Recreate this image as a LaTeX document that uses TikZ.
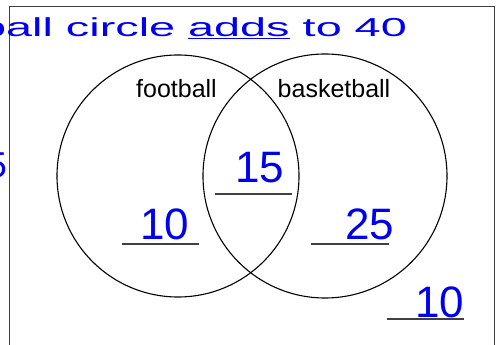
\documentclass[tikz,border=0pt]{standalone}
\usepackage{fontspec}
\setmainfont{Liberation Sans}
\usetikzlibrary{positioning}
\definecolor{ink}{RGB}{0,0,240}

\begin{document}
\begin{tikzpicture}[
  x=1pt, y=1pt,
  set/.style={circle, draw, line width=1.1pt, inner sep=0pt},
  setlabel/.style={anchor=base, inner sep=0pt, font=\fontsize{25}{30}\selectfont},
  blank/.style={inner sep=0pt, minimum width=77pt, minimum height=0pt},
  num/.style={inner sep=0pt, text depth=0pt, text=ink, font=\fontsize{44}{44}\selectfont},
  hand/.style={inner sep=0pt, text=ink, anchor=base west, font=\fontsize{26}{30}\selectfont},
  rule/.style={draw=black!75, line width=1.2pt}
]
  \useasboundingbox (0,0) rectangle (499,345);
  \draw[draw=black!75, line width=1pt] (9,-5) |- (494.5,338.5) -- (494.5,-5);

  \node[hand] (note) at (-20,308) {\scalebox{1.8}[1]{ball circle \underline{adds} to 40}};
  \node[hand, anchor=base east, font=\fontsize{36}{40}\selectfont] (side) at (7,167) {5};

  \node[set, minimum size=242pt] (football) at (178,169) {};
  \node[set, minimum size=244pt] (basketball) at (325,169) {};
  \node[setlabel] (flabel) at (176.5,247) {football};
  \node[setlabel] (blabel) at (334,247) {basketball};

  \node[blank] (ufoot) at (160.5,101) {};
  \node[blank] (uboth) at (253.5,151) {};
  \node[blank] (ubask) at (350,101) {};
  \node[blank] (unone) at (425.5,26) {};
  \draw[rule] (ufoot.west) -- (ufoot.east);
  \draw[rule] (uboth.west) -- (uboth.east);
  \draw[rule] (ubask.west) -- (ubask.east);
  \draw[rule] (unone.west) -- (unone.east);

  \node[num, above=4pt of ufoot, xshift=4.5pt] (nfoot) {10};
  \node[num, above=11pt of uboth, xshift=6.5pt] (nboth) {15};
  \node[num, above=4pt of ubask, xshift=20pt] (nbask) {25};
  \node[num, above=1pt of unone, xshift=14.5pt] (nnone) {10};
\end{tikzpicture}
\end{document}
